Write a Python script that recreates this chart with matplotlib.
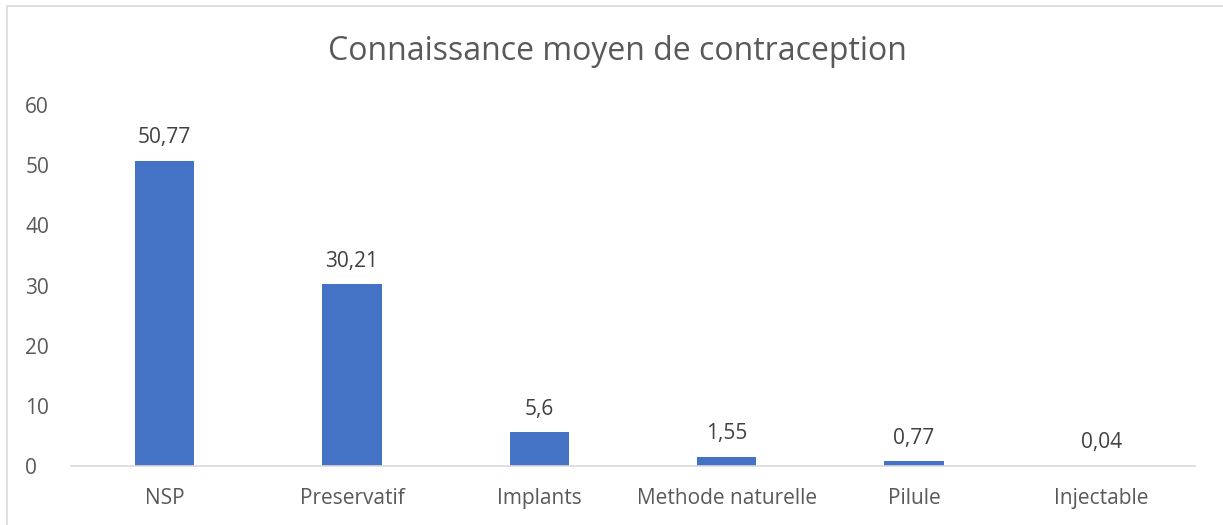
import matplotlib.pyplot as plt
from matplotlib.patches import Rectangle

categories = ['NSP', 'Preservatif', 'Implants', 'Methode naturelle', 'Pilule', 'Injectable']
values = [50.77, 30.21, 5.6, 1.55, 0.77, 0.04]
labels = ['50,77', '30,21', '5,6', '1,55', '0,77', '0,04']
yticks = [0, 10, 20, 30, 40, 50, 60]

plt.rcParams['font.family'] = ['Open Sans', 'DejaVu Sans']

W, H = 1223, 525
fig = plt.figure(figsize=(W / 100, H / 100), dpi=100)
ax = fig.add_axes([71 / W, (H - 466) / H, (1195 - 71) / W, (466 - 105) / H])

x = range(len(categories))
ax.bar(x, values, width=0.315, color='#4472C4', zorder=2)
for xi, v, lab in zip(x, values, labels):
    ax.annotate(lab, (xi, v), xytext=(0, 9), textcoords='offset points',
                ha='center', va='bottom', fontsize=15, color='#404040')

ax.set_xlim(-0.5, len(categories) - 0.5)
ax.set_ylim(0, 60)
ax.set_yticks(yticks)
ax.set_xticks(list(x))
ax.set_xticklabels(categories)
ax.tick_params(axis='both', length=0, labelsize=15, colors='#595959')
ax.tick_params(axis='x', pad=16)
ax.tick_params(axis='y', pad=33)
for lab in ax.get_yticklabels():
    lab.set_horizontalalignment('left')

for s in ['top', 'right', 'left']:
    ax.spines[s].set_visible(False)
ax.spines['bottom'].set_color('#D9D9D9')
ax.spines['bottom'].set_linewidth(1.2)

fig.text(617 / W, 1 - 52 / H, 'Connaissance moyen de contraception',
         ha='center', va='center', fontsize=23, color='#595959')

# chart area border (cut off at right and bottom)
fig.patches.append(Rectangle((7 / W, -0.05), 1.1, 1 - 6 / H + 0.05,
                             transform=fig.transFigure, fill=False,
                             edgecolor='#D9D9D9', linewidth=1.2))

fig.savefig('out.png', dpi=100)
